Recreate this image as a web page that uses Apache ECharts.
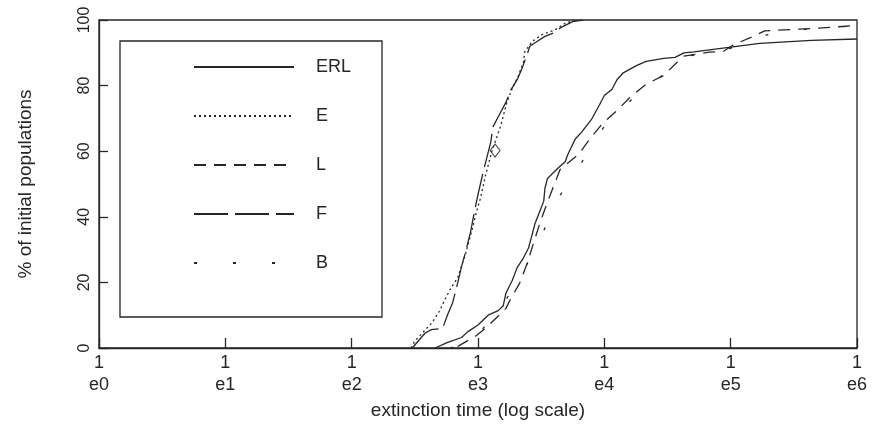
<!DOCTYPE html>
<html>
<head>
<meta charset="utf-8">
<title>extinction time</title>
<script src="https://cdn.jsdelivr.net/npm/echarts@6/dist/echarts.min.js"></script>
<style>
  html, body { margin: 0; padding: 0; background: #ffffff; }
  #chart { width: 873px; height: 438px; }
</style>
</head>
<body>
<div id="chart"></div>
<script>
// x = log10(extinction time), y = % of initial populations
const names = ['ERL', 'E', 'L', 'F', 'B']

const erl = [
  [2.66, 0], [2.76, 1.7], [2.87, 3.2], [2.92, 5.0], [3.0, 7.0], [3.08, 10.0],
  [3.16, 11.4], [3.2, 12.9], [3.22, 16.6], [3.27, 20.5], [3.31, 24.5], [3.36, 27.5],
  [3.4, 30.5], [3.43, 34.8], [3.45, 37.8], [3.48, 40.8], [3.52, 44.7], [3.53, 48.7],
  [3.55, 51.7], [3.63, 54.7], [3.69, 56.8], [3.71, 58.9], [3.77, 63.7], [3.82, 65.8],
  [3.9, 69.8], [3.96, 74.0], [4.0, 77.0], [4.06, 78.8], [4.1, 81.8], [4.15, 83.9],
  [4.25, 86.0], [4.33, 87.4], [4.47, 88.3], [4.56, 88.6], [4.63, 90.0], [4.71, 90.3],
  [4.97, 91.6], [5.23, 92.9], [5.64, 93.8], [6.0, 94.2]
]
const e = [
  [2.47, 0], [2.5, 2.1], [2.64, 7.9], [2.69, 10.9], [2.74, 14.9], [2.78, 17.9],
  [2.84, 21.5], [2.9, 28.5], [2.95, 35.6], [2.99, 41.8], [3.02, 45.7], [3.06, 52.7],
  [3.11, 60.0], [3.18, 67.8], [3.23, 75.1], [3.27, 79.0], [3.32, 83.0], [3.36, 87.2],
  [3.37, 90.3], [3.43, 93.5], [3.51, 95.6], [3.61, 97.0], [3.69, 99.0], [3.77, 100]
]
const l = [
  [2.84, 0.5], [2.98, 3.6], [3.06, 6.0], [3.14, 9.0], [3.22, 12.0], [3.26, 15.1],
  [3.33, 19.8], [3.39, 25.9], [3.49, 38.1], [3.55, 44.5], [3.65, 54.4], [3.8, 59.2],
  [3.88, 63.5], [3.98, 68.2], [4.1, 72.4], [4.2, 76.3], [4.33, 80.4], [4.47, 83.1],
  [4.57, 86.9], [4.63, 89.0], [4.83, 90.2], [4.94, 90.4], [5.02, 92.4], [5.19, 95.2],
  [5.27, 96.7], [5.37, 96.9], [5.64, 97.4], [5.91, 98.1], [6.0, 98.4]
]
const f = [
  [2.48, 0], [2.58, 4.5], [2.63, 5.6], [2.72, 6.0], [2.76, 10.2], [2.8, 13.9],
  [2.84, 20.0], [2.87, 24.9], [2.9, 29.1], [2.94, 35.2], [2.96, 39.2], [2.98, 43.1],
  [3.0, 46.8], [3.04, 53.5], [3.1, 62.6], [3.12, 67.5], [3.16, 70.5], [3.22, 74.8],
  [3.26, 78.7], [3.31, 81.8], [3.35, 85.4], [3.39, 89.6], [3.41, 92.0], [3.47, 93.5],
  [3.53, 95.0], [3.59, 95.9], [3.67, 98.0], [3.75, 99.5], [3.83, 100]
]
const b = [
  [2.78, 0], [2.97, 2.5], [3.08, 7.9], [3.17, 11.5], [3.26, 17.2], [3.3, 19.3],
  [3.38, 25.0], [3.51, 34.7], [3.61, 44.6], [3.77, 52.7], [3.88, 61.0], [3.99, 67.0],
  [4.12, 72.0], [4.3, 79.0], [4.5, 84.0], [4.65, 89.0], [4.95, 90.5], [5.2, 95.0],
  [5.6, 97.2], [6.0, 98.3]
]
const marker = [[3.135, 60.2]]

const dashes = {
  ERL: 'solid',
  E: [2, 3],
  L: [12, 8],
  F: [34, 7],
  B: [3, 36]
}

const ink = '#262626'
const chart = echarts.init(document.getElementById('chart'))

const lineSeries = [erl, e, l, f, b].map((pts, i) => ({
  name: names[i],
  type: 'line',
  data: pts,
  showSymbol: false,
  symbol: 'none',
  symbolSize: 0,
  smooth: false,
  silent: true,
  lineStyle: { color: ink, width: 1.3, type: dashes[names[i]] },
  itemStyle: { color: ink }
}))

chart.setOption({
  backgroundColor: '#ffffff',
  animation: false,
  textStyle: { fontFamily: 'Liberation Sans, Arial, sans-serif', color: ink },
  grid: {
    left: 99, right: 16, top: 20, bottom: 90,
    show: true, borderColor: ink, borderWidth: 1.3, backgroundColor: 'transparent'
  },
  legend: {
    data: names,
    orient: 'vertical',
    left: 120,
    top: 41,
    itemWidth: 100,
    itemHeight: 18,
    itemGap: 31,
    padding: [17, 31, 45, 73],
    borderColor: ink,
    borderWidth: 1.3,
    selectedMode: false,
    itemStyle: { opacity: 0, borderWidth: 0 },
    textStyle: { fontSize: 18, color: ink, lineHeight: 18, padding: [0, 0, 0, 17] }
  },
  xAxis: {
    type: 'value',
    min: 0,
    max: 6,
    interval: 1,
    name: 'extinction time (log scale)',
    nameLocation: 'middle',
    nameGap: 52,
    nameTextStyle: { fontSize: 19, color: ink },
    axisLine: { lineStyle: { color: ink, width: 1.3 } },
    axisTick: { inside: true, length: 10, lineStyle: { color: ink, width: 1.3 } },
    axisLabel: {
      fontSize: 18, lineHeight: 22, margin: 4, color: ink,
      formatter: v => '1\ne' + v
    },
    splitLine: { show: false }
  },
  yAxis: {
    type: 'value',
    min: 0,
    max: 100,
    interval: 20,
    name: '% of initial populations',
    nameLocation: 'middle',
    nameGap: 64,
    nameTextStyle: { fontSize: 19, color: ink },
    axisLine: { lineStyle: { color: ink, width: 1.3 } },
    axisTick: { inside: true, length: 9, lineStyle: { color: ink, width: 1.3 } },
    axisLabel: { fontSize: 16, rotate: 90, margin: 6, color: ink },
    splitLine: { show: false }
  },
  series: lineSeries.concat([{
    name: 'marker',
    type: 'scatter',
    data: marker,
    symbol: 'diamond',
    symbolSize: [10, 13],
    silent: true,
    itemStyle: { color: '#ffffff', borderColor: ink, borderWidth: 1.1 }
  }])
})
</script>
</body>
</html>
